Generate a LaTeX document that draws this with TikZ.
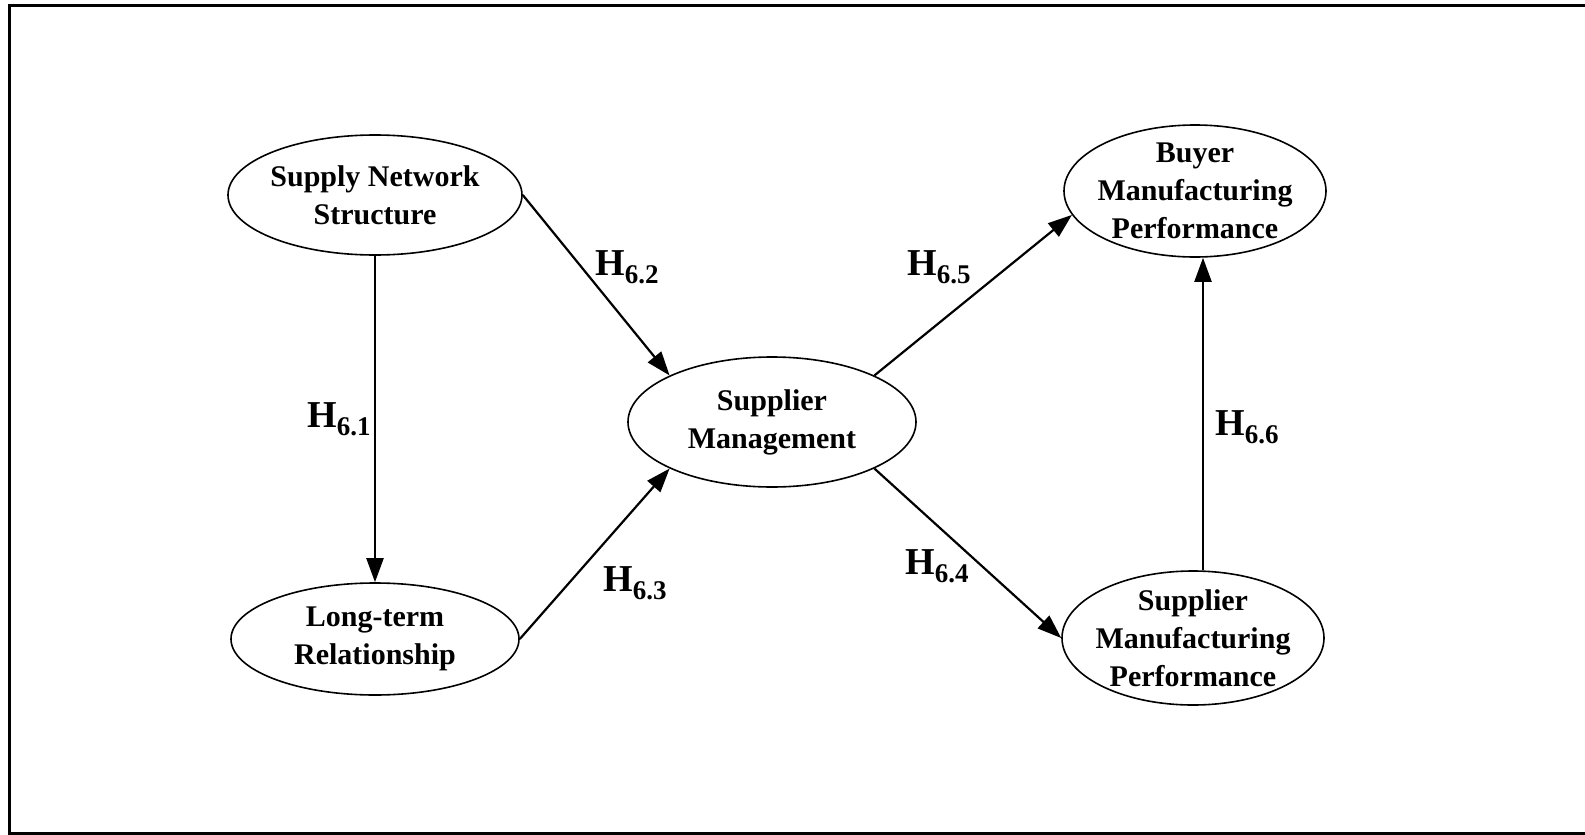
\documentclass[tikz,border=0pt]{standalone}
\usepackage{fontspec}
\setmainfont{Liberation Serif}
\usetikzlibrary{arrows.meta,shapes.geometric}
\begin{document}
\begin{tikzpicture}[x=1pt,y=-1pt,
  construct/.style={ellipse,draw,line width=1.6pt,inner sep=0pt},
  ctext/.style={align=center,inner sep=0pt,font=\fontsize{30}{38}\selectfont\bfseries},
  hyp/.style={anchor=base west,inner sep=0pt,font=\fontsize{38}{40}\selectfont\bfseries},
  link/.style={line width=2.2pt,-{Triangle[length=24pt,width=17pt]}}]
\newcommand\hsub[1]{H\raisebox{-8pt}{\fontsize{27}{28}\selectfont #1}}
\useasboundingbox (0,0) rectangle (1585,835);
% frame
\draw[line width=3pt] (1585,5) -- (9,5) -- (9,833) -- (1585,833);

% constructs
\node[construct,minimum width=294pt,minimum height=120pt] (sns) at (375,195) {};
\node[ctext] (snst) at (sns) {Supply Network\\Structure};
\node[construct,minimum width=288pt,minimum height=112pt] (ltr) at (375,639) {};
\node[ctext] (ltrt) at (ltr) {Long-term\\Relationship};
\node[construct,minimum width=288pt,minimum height=130pt] (sm) at (772,422) {};
\node[ctext] (smt) at (sm) {Supplier\\Management};
\node[construct,minimum width=262pt,minimum height=132pt] (bmp) at (1195,191) {};
\node[ctext] (bmpt) at (bmp) {Buyer\\Manufacturing\\Performance};
\node[construct,minimum width=262pt,minimum height=134pt] (smp) at (1193,638) {};
\node[ctext] (smpt) at (smp) {Supplier\\Manufacturing\\Performance};
\coordinate (bmpin) at ([xshift=10pt]smp.north |- bmp.south);

% hypothesised paths
\draw[link] (sns.south) -- (ltr.north);
\draw[link] (sns.east) -- (sm.north west);
\draw[link] (ltr.east) -- (sm.south west);
\draw[link] (sm.north east) -- (bmp.191);
\draw[link] (sm.south east) -- (smp.west);
\draw[link] ([xshift=10pt]smp.north) -- (bmpin);

% path labels
\node[hyp] (h61) at (307,427) {\hsub{6.1}};
\node[hyp] (h62) at (595,275) {\hsub{6.2}};
\node[hyp] (h63) at (603,591) {\hsub{6.3}};
\node[hyp] (h64) at (905,574) {\hsub{6.4}};
\node[hyp] (h65) at (907,275) {\hsub{6.5}};
\node[hyp] (h66) at (1215,435) {\hsub{6.6}};
\end{tikzpicture}
\end{document}
